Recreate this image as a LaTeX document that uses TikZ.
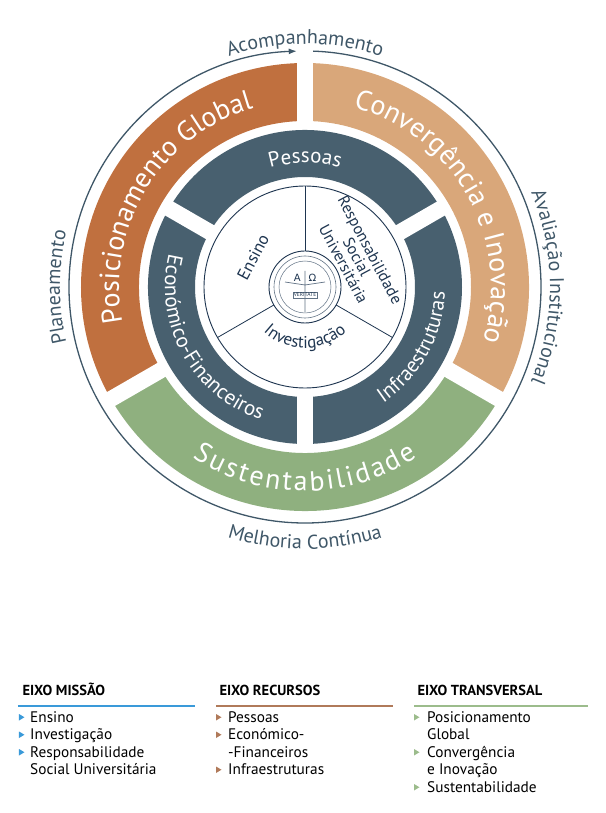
\documentclass[tikz,border=0pt]{standalone}
\usepackage{fontspec}
\setmainfont{PT Sans}
\newfontfamily\grk{DejaVu Sans}
\usetikzlibrary{decorations.text,arrows.meta}
\definecolor{orng}{HTML}{C0703F}
\definecolor{tan}{HTML}{D9A77A}
\definecolor{grn}{HTML}{8FB07F}
\definecolor{slate}{HTML}{48606F}
\definecolor{lbl}{HTML}{3F5768}
\definecolor{navy}{HTML}{1E3550}
\definecolor{lblue}{HTML}{3A9AD9}
\definecolor{lbrown}{HTML}{B07A5A}
\definecolor{lgreen}{HTML}{9CBC8C}
\newcommand{\fbig}{\color{white}\fontsize{28}{28}\selectfont}
\newcommand{\fmid}{\color{white}\fontsize{21}{21}\selectfont}
\newcommand{\finn}{\color{navy}\fontsize{17}{17}\selectfont}
\newcommand{\fout}{\color{lbl}\fontsize{20}{20}\selectfont}
\newcommand{\sk}[1]{{#1\kern2.5pt}}
\tikzset{
  gapline/.style={white,line width=16pt},
  arctext/.style={decorate,decoration={text along path,text align=center,text={#1}}},
  legtitle/.style={anchor=base west,font=\bfseries\fontsize{14.5}{15}\selectfont,text=black},
  legitem/.style={anchor=base west,font=\fontsize{15.3}{15}\selectfont,text=black,inner sep=0pt}
}
\newcommand{\annseg}[5]{\fill[#5] (#1:#3) arc[start angle=#1,end angle=#2,radius=#3] -- (#2:#4) arc[start angle=#2,end angle=#1,radius=#4] -- cycle;}
\newcommand{\bul}[3]{\fill[#1] (#2,#3+1.5) -- (#2,#3+8) -- (#2+5.5,#3+4.75) -- cycle;}
\begin{document}
\begin{tikzpicture}[x=1pt,y=1pt]
\useasboundingbox (-305,-526) rectangle (300,287);
\coordinate (c) at (0,0);
\draw[lbl,line width=1.3pt,-{Latex[length=8pt,width=6pt]}] (88:236) arc[start angle=88,end angle=-268,radius=236];
\annseg{90}{210}{224}{166}{orng}
\annseg{-30}{90}{224}{166}{tan}
\annseg{210}{330}{224}{166}{grn}
\foreach \a in {90,210,330} \draw[gapline] (\a:150) -- (\a:232);
\annseg{30}{150}{157}{110}{slate}
\annseg{150}{270}{157}{110}{slate}
\annseg{270}{390}{157}{110}{slate}
\foreach \a in {30,150,270} \draw[gapline] (\a:100) -- (\a:162);
\draw[navy,fill=white,line width=0.9pt] (c) circle[radius=101];
\foreach \a in {90,210,330} \draw[navy,line width=0.8pt] (\a:36) -- (\a:101);
\draw[navy,fill=white,line width=0.9pt] (c) circle[radius=36];
\node[draw=navy!70,circle,minimum size=62pt,line width=0.6pt] (seal) at (c) {};
\draw[navy!70,line width=0.5pt] (c) circle[radius=26];
\node[text=navy,font=\grk\fontsize{10}{10}\selectfont] (alpha) at (0,9) {A\hspace{8pt}Ω};
\node[text=navy,font=\fontsize{5.5}{6}\selectfont,draw=navy!70,inner sep=0.8pt] (verit) at (0,-8) {VERITATE};
\draw[navy!70,line width=0.7pt] (0,16) -- (0,-25) (-20,5) -- (0,2) -- (20,5);
\path[arctext={|\fbig|Posicionamento Global}] (197:186) arc[start angle=197,end angle=100,radius=186];
\path[arctext={|\fbig|Convergência e Inovação}] (80:186) arc[start angle=80,end angle=-22,radius=186];
\path[arctext={|\fbig|\sk{S}\sk{u}\sk{s}\sk{t}\sk{e}\sk{n}\sk{t}\sk{a}\sk{b}\sk{i}\sk{l}\sk{i}\sk{d}\sk{a}\sk{d}e}] (210:204) arc[start angle=210,end angle=330,radius=204];
\path[arctext={|\fmid|Pessoas}] (125:124) arc[start angle=125,end angle=55,radius=124];
\path[arctext={|\fmid|Económico-Financeiros}] (150:140) arc[start angle=150,end angle=268,radius=140];
\path[arctext={|\fmid|Infraestruturas}] (-88:140) arc[start angle=-88,end angle=30,radius=140];
\node[text=navy,font=\fontsize{17}{17}\selectfont,rotate=62] (ensino) at (150:60) {Ensino};
\node[text=navy,font=\fontsize{16}{15}\selectfont,rotate=-62,align=center] (rsu) at (30:60) {Responsabilidade\\Social\\Universitária};
\path[arctext={|\finn|Investigação}] (225:61) arc[start angle=225,end angle=315,radius=61];
\path[arctext={|\fout|Acompanhamento}] (115:243) arc[start angle=115,end angle=65,radius=243];
\path[arctext={|\fout|Planeamento}] (200:245) arc[start angle=200,end angle=160,radius=245];
\path[arctext={|\fout|Avaliação Institucional}] (35:245) arc[start angle=35,end angle=-35,radius=245];
\path[arctext={|\fout|Melhoria Contínua}] (250:262) arc[start angle=250,end angle=290,radius=262];
\node[legtitle] (t1) at (-286,-408) {EIXO MISSÃO};
\node[legtitle] (t2) at (-89,-408) {EIXO RECURSOS};
\node[legtitle] (t3) at (109,-408) {EIXO TRANSVERSAL};
\draw[lblue,line width=1.6pt] (-287,-419) -- (-110,-419);
\draw[lbrown,line width=1.6pt] (-89,-419) -- (88,-419);
\draw[lgreen,line width=1.6pt] (109,-419) -- (283,-419);
\node[legitem] (a1) at (-275,-435) {Ensino};
\node[legitem] (a2) at (-275,-452.5) {Investigação};
\node[legitem] (a3) at (-275,-470) {Responsabilidade};
\node[legitem] (a4) at (-275,-487.5) {Social Universitária};
\node[legitem] (b1) at (-77,-435) {Pessoas};
\node[legitem] (b2) at (-77,-452.5) {Económico-};
\node[legitem] (b3) at (-77,-470) {-Financeiros};
\node[legitem] (b4) at (-77,-487.5) {Infraestruturas};
\node[legitem] (g1) at (122,-435) {Posicionamento};
\node[legitem] (g2) at (122,-452.5) {Global};
\node[legitem] (g3) at (122,-470) {Convergência};
\node[legitem] (g4) at (122,-487.5) {e Inovação};
\node[legitem] (g5) at (122,-505) {Sustentabilidade};
\bul{lblue}{-286}{-435}\bul{lblue}{-286}{-452.5}\bul{lblue}{-286}{-470}
\bul{lbrown}{-89}{-435}\bul{lbrown}{-89}{-452.5}\bul{lbrown}{-89}{-487.5}
\bul{lgreen}{109}{-435}\bul{lgreen}{109}{-470}\bul{lgreen}{109}{-505}
\end{tikzpicture}
\end{document}
